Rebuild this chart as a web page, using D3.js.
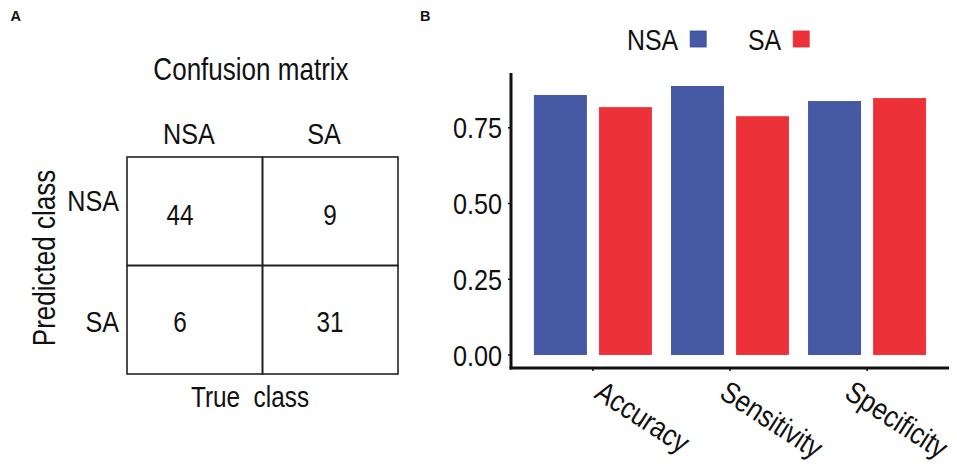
<!DOCTYPE html>
<html>
<head>
<meta charset="utf-8">
<script src="https://cdn.jsdelivr.net/npm/d3@7"></script>
<style>
  html, body { margin: 0; padding: 0; background: #ffffff; }
  svg { display: block; }
  .nar { font-family: "Liberation Sans", Arial, sans-serif; fill: #111; }
  .panel { font-family: "Liberation Sans", Arial, sans-serif; font-weight: bold; fill: #111; }
</style>
</head>
<body>
<svg id="chart" width="957" height="468"></svg>
<script>
// ---------- data ----------
const classes = ["NSA", "SA"];                 // true class (columns)
const confusionRows = ["NSA", "SA"];           // predicted class (rows)
const confusionValues = [[44, 9], [6, 31]];    // [predicted][true]
const metrics = ["Accuracy", "Sensitivity", "Specificity"];
const seriesNames = ["NSA", "SA"];
const nsaValues = [0.855, 0.885, 0.835];
const saValues = [0.815, 0.785, 0.845];
const yTicks = [0, 0.25, 0.5, 0.75];
const yTickLabels = ["0.00", "0.25", "0.50", "0.75"];

const colors = { NSA: "#4559A5", SA: "#EC3138" };
const strokes = { NSA: "#3346A0", SA: "#F2262C" };
const NARROW = 0.84; // horizontal condensation to mimic a narrow sans face

const svg = d3.select("#chart");

function label(g, x, y, txt, size, anchor, rot, sx) {
  return g.append("text").attr("class", "nar")
    .attr("transform", `translate(${x},${y}) rotate(${rot || 0}) scale(${sx || NARROW},1)`)
    .attr("text-anchor", anchor || "middle")
    .attr("font-size", size)
    .attr("xml:space", "preserve").style("white-space", "pre")
    .text(txt);
}

// panel letters
svg.append("text").attr("class", "panel").attr("x", 10.5).attr("y", 20.5).attr("font-size", 14.5).text("A");
svg.append("text").attr("class", "panel").attr("x", 420).attr("y", 20.5).attr("font-size", 14.5).text("B");

// ---------- Panel A: confusion matrix ----------
const gx = d3.scaleBand().domain(classes).range([127, 398]);
const gy = d3.scaleBand().domain(confusionRows).range([157, 374]);
const numX = d3.scalePoint().domain(classes).range([180, 330]);
const numY = d3.scalePoint().domain(confusionRows).range([225, 332]);
const colLabX = d3.scalePoint().domain(classes).range([189, 324]);
const rowLabY = d3.scalePoint().domain(confusionRows).range([211, 332]);

const A = svg.append("g");
label(A, 251, 80, "Confusion matrix", 31, "middle");

const cells = [];
confusionRows.forEach((r, i) => classes.forEach((c, j) => cells.push({ r, c, v: confusionValues[i][j] })));

A.selectAll("rect.cell").data(cells).enter().append("rect")
  .attr("class", "cell")
  .attr("x", d => gx(d.c)).attr("y", d => gy(d.r))
  .attr("width", gx.bandwidth()).attr("height", gy.bandwidth())
  .attr("fill", "none").attr("stroke", "#222").attr("stroke-width", 1.6);

cells.forEach(d => label(A, numX(d.c), numY(d.r), String(d.v), 29, "middle"));
classes.forEach(c => label(A, colLabX(c), 144, c, 30, "middle"));
confusionRows.forEach(r => label(A, 119, rowLabY(r), r, 30, "end"));

label(A, 55, 258, "Predicted class", 31, "middle", -90);
label(A, 250, 407, "True  class", 29, "middle");

// ---------- Panel B: bar chart ----------
const x0 = d3.scaleBand().domain(metrics).range([511, 949]).paddingInner(0.146).paddingOuter(0.17);
const x1 = d3.scaleBand().domain(seriesNames).range([0, x0.bandwidth()]).paddingInner(0.2);
const y = d3.scaleLinear().domain([-0.0443, 0.9293]).range([368, 73]);
const labX = d3.scalePoint().domain(metrics).range([593, 843]); // start of rotated category labels

const barData = [];
metrics.forEach((m, i) => {
  barData.push({ m, s: "NSA", v: nsaValues[i] });
  barData.push({ m, s: "SA", v: saValues[i] });
});

const B = svg.append("g");
B.selectAll("rect.bar").data(barData).enter().append("rect")
  .attr("class", "bar")
  .attr("x", d => x0(d.m) + x1(d.s)).attr("width", x1.bandwidth())
  .attr("y", d => y(d.v)).attr("height", d => y(0) - y(d.v))
  .attr("fill", d => colors[d.s]).attr("stroke", d => strokes[d.s]).attr("stroke-width", 0.8);

// y axis
const yAxis = d3.axisLeft(y).tickValues(yTicks).tickFormat((d, i) => yTickLabels[i]).tickSize(3).tickPadding(4);
const yg = B.append("g").attr("transform", "translate(511,0)").call(yAxis);
yg.select(".domain").remove();
yg.selectAll(".tick line").attr("stroke", "#111").attr("stroke-width", 1.5);
yg.selectAll(".tick text")
  .attr("class", "nar").attr("font-size", 29).attr("font-family", null)
  .attr("x", 0).attr("dy", "0.36em").attr("text-anchor", "end")
  .attr("transform", `translate(-9,0) scale(0.87,1)`);
B.append("line").attr("x1", 511).attr("x2", 511).attr("y1", y.range()[1]).attr("y2", y.range()[0] + 1.5)
  .attr("stroke", "#111").attr("stroke-width", 3);

// x axis
const xAxis = d3.axisBottom(x0).tickSize(3).tickSizeOuter(0);
const xg = B.append("g").attr("transform", "translate(0,368)").call(xAxis);
xg.select(".domain").remove();
xg.selectAll(".tick line").attr("stroke", "#111").attr("stroke-width", 1.5);
xg.selectAll(".tick text")
  .attr("class", "nar").attr("font-size", 30).attr("font-family", null)
  .attr("text-anchor", "start")
  .attr("x", 0).attr("y", 0).attr("dy", 0)
  .attr("transform", d => `translate(${labX(d) - (x0(d) + x0.bandwidth() / 2)},29) rotate(33) scale(0.85,1)`);
B.append("line").attr("x1", 509.5).attr("x2", 949).attr("y1", 368).attr("y2", 368)
  .attr("stroke", "#111").attr("stroke-width", 3);

// legend
const legX = d3.scalePoint().domain(seriesNames).range([627, 748]);
const leg = B.selectAll("g.leg").data(seriesNames).enter().append("g").attr("class", "leg")
  .attr("transform", d => `translate(${legX(d)},0)`);
leg.each(function (d) {
  const g = d3.select(this);
  const t = label(g, 0, 50, d, 30, "start", 0, 0.83);
  const w = t.node().getComputedTextLength() * 0.83;
  g.append("rect").attr("x", w + 12).attr("y", 31).attr("width", 16).attr("height", 16)
    .attr("fill", colors[d]).attr("stroke", strokes[d]).attr("stroke-width", 0.8);
});
</script>
</body>
</html>
